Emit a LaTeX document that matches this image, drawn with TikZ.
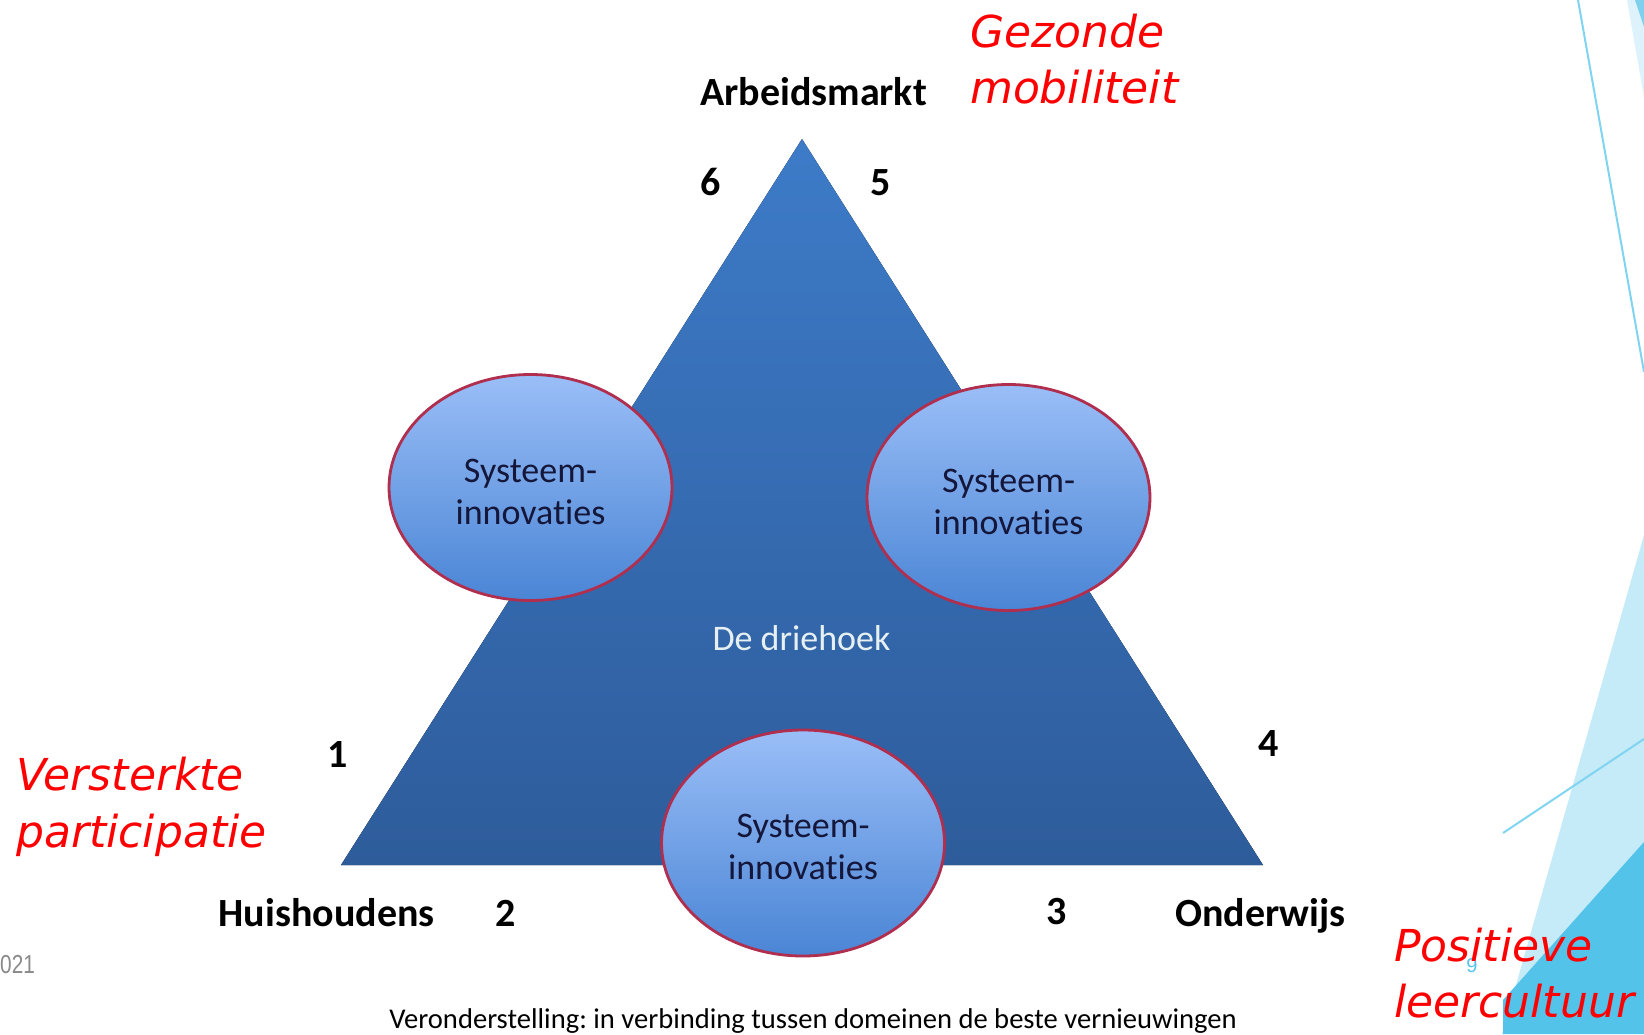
\documentclass[tikz,border=0pt]{standalone}
\usepackage{fontspec}
\setmainfont{Carlito}[Ligatures={NoCommon}]
\newfontfamily\redfont{DejaVu Sans}
\newfontfamily\lsans{Liberation Sans}
\usetikzlibrary{shapes.geometric}

\definecolor{triTop}{HTML}{3D7BC8}
\definecolor{triBot}{HTML}{2E5C9B}
\definecolor{ellTop}{HTML}{9ABEF7}
\definecolor{ellBot}{HTML}{4A85D5}
\definecolor{ellLine}{HTML}{B02E4E}
\definecolor{decoLight}{HTML}{C5EBF8}
\definecolor{decoDark}{HTML}{53C3EA}
\definecolor{decoLine}{HTML}{80D4F1}
\definecolor{decoPale}{HTML}{DDF2FA}
\definecolor{decoMid}{HTML}{7FCFEE}
\definecolor{capgray}{HTML}{8A8A8A}
\definecolor{drietext}{HTML}{E6F0F2}
\definecolor{ellText}{HTML}{14163A}

\newcommand{\sysText}{\rule{0pt}{32pt}Systeem-\\innovaties}

\begin{document}
\frenchspacing
\begin{tikzpicture}[x=1pt,y=-1pt,
  redlbl/.style={text=red, font=\redfont\itshape\fontsize{44}{52}\selectfont, inner sep=0pt, anchor=base west},
  domlbl/.style={text=black, font=\bfseries\fontsize{40}{48}\selectfont, inner sep=0pt, anchor=base},
  numlbl/.style={domlbl},
  sysbox/.style={ellipse, draw=ellLine, line width=2.8pt, top color=ellTop, bottom color=ellBot,
     minimum width=283pt, minimum height=226pt, inner sep=0pt, align=center, text=ellText,
     font=\fontsize{36}{42}\selectfont},
  decoline/.style={draw=decoLine, line width=2pt}
]
\useasboundingbox (0,0) rectangle (1644,1034);
\fill[white] (0,0) rectangle (1644,1034);

% decorative corner shapes
\begin{scope}
\clip (0,0) rectangle (1644,1034);
\fill[decoLight] (1644,535) -- (1502,1034) -- (1644,1034) -- cycle;
\fill[decoDark] (1644,842) -- (1503,1000) -- (1503,1034) -- (1644,1034) -- cycle;
\draw[decoline] (1503,833) -- (1644,739);
\draw[decoline] (1578,0) -- (1644,372);
\fill[decoPale] (1627,0) -- (1644,0) -- (1644,97) -- cycle;
\fill[decoMid] (1635,0) -- (1644,0) -- (1644,27) -- cycle;
\end{scope}

% triangle
\coordinate (apex) at (802,139);
\coordinate (bl) at (341,865);
\coordinate (br) at (1263,865);
\fill[top color=triTop, bottom color=triBot] (apex) -- (br) -- (bl) -- cycle;

\node[font=\fontsize{36}{42}\selectfont, text=drietext, anchor=base, inner sep=0pt] (dh) at (801.5,650) {De driehoek};

% ellipses
\node[sysbox] (sysL) at (530.5,487.5) {\sysText};
\node[sysbox] (sysR) at (1008.5,497.5) {\sysText};
\node[sysbox] (sysB) at (803,843) {\sysText};

% domain labels and numbers
\node[domlbl] (arb) at (813.5,105) {Arbeidsmarkt};
\node[numlbl] (n6) at (711,195) {6};
\node[numlbl] (n5) at (881,195) {5};
\node[numlbl] (n1) at (338,767) {1};
\node[numlbl] (n4) at (1269,756) {4};
\node[domlbl] (hui) at (326.5,926) {Huishoudens};
\node[numlbl] (n2) at (506,926) {2};
\node[numlbl] (n3) at (1057,924) {3};
\node[domlbl] (ond) at (1260.5,926) {Onderwijs};

% caption
\node[font=\fontsize{28.6}{34}\selectfont, anchor=base, inner sep=0pt] (cap) at (813,1028)
  {Veronderstelling: in verbinding tussen domeinen de beste vernieuwingen};

% footer bits
\node[font=\lsans\fontsize{26}{30}\selectfont, text=capgray, anchor=base west, inner sep=0pt] (yr) at (0,973) {\scalebox{0.8}[1]{021}};
\node[font=\lsans\fontsize{20}{24}\selectfont, text=decoDark, anchor=base, inner sep=0pt] (pg) at (1472,972) {9};

% red labels
\node[redlbl] (gz1) at (970,47) {Gezonde};
\node[redlbl] (gz2) at (970,103) {mobiliteit};
\node[redlbl] (vs1) at (16,790) {Versterkte};
\node[redlbl] (vs2) at (16,847) {participatie};
\node[redlbl] (ps1) at (1394,961) {Positieve};
\node[redlbl] (ps2) at (1394,1017) {leercultuur};
\end{tikzpicture}
\end{document}
